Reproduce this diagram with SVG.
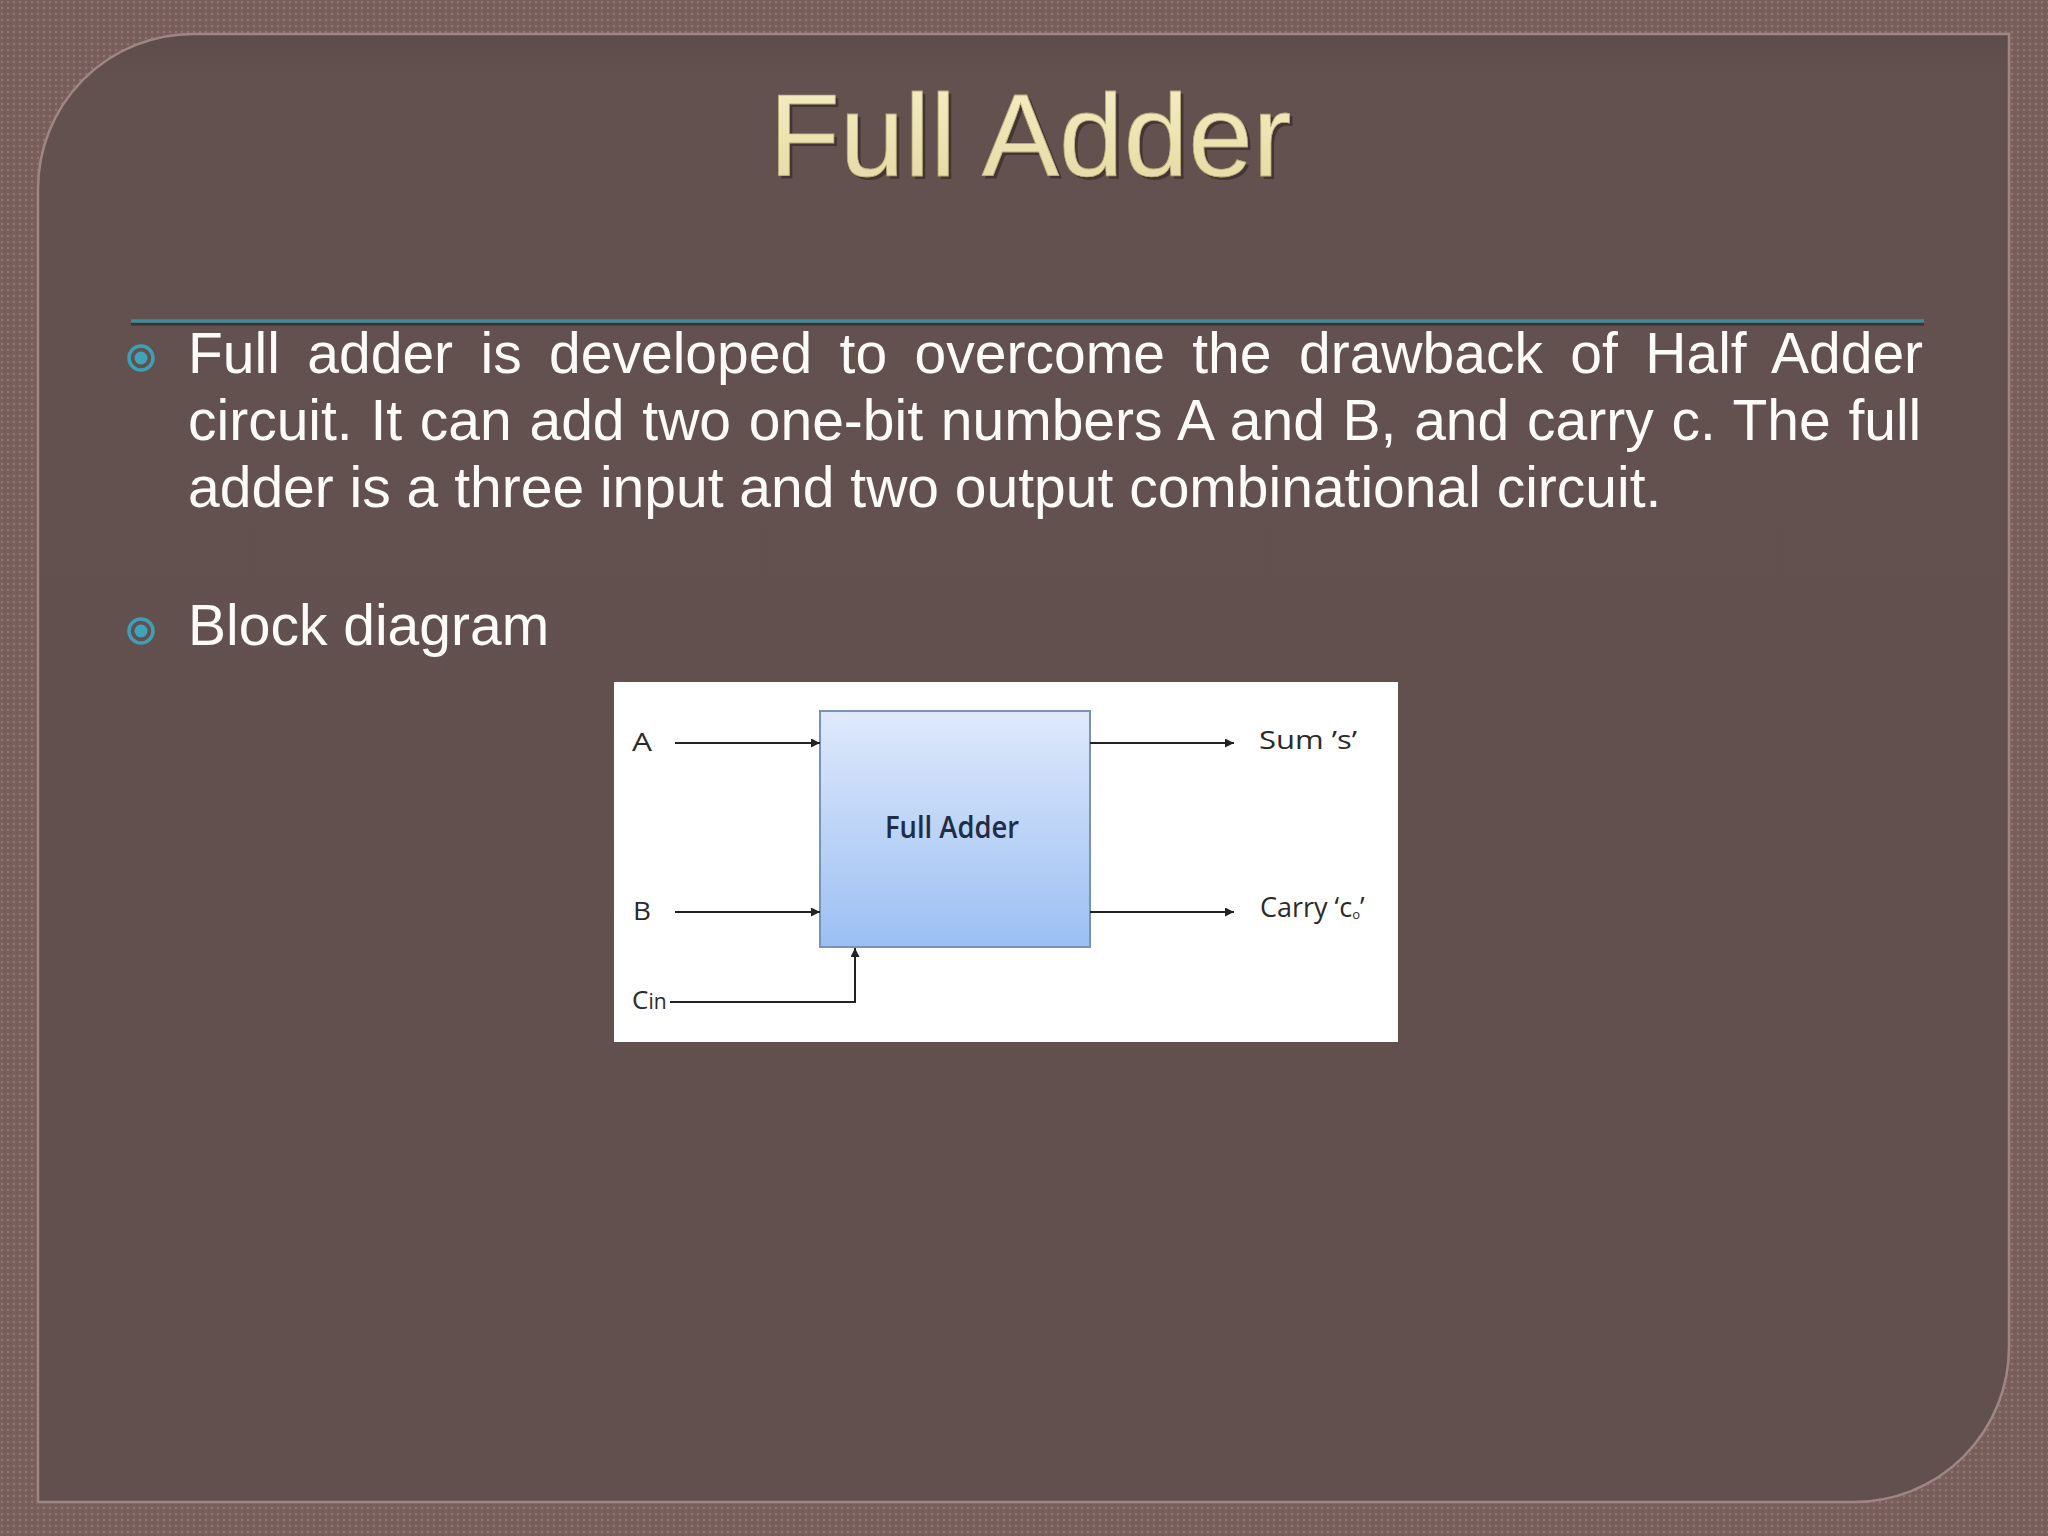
<svg xmlns="http://www.w3.org/2000/svg" width="2048" height="1536" viewBox="0 0 2048 1536">
  <defs>
    <pattern id="weave" width="6" height="6" patternUnits="userSpaceOnUse">
      <rect width="6" height="6" fill="#7a605d"/>
      <rect x="1" y="1" width="2" height="2" fill="#92766f"/>
      <rect x="4" y="4" width="1.5" height="1.5" fill="#6c5553"/>
    </pattern>
    <linearGradient id="panelShade" x1="0" y1="0" x2="0" y2="1">
      <stop offset="0" stop-color="#5e4c4b"/>
      <stop offset="0.03" stop-color="#63514f"/>
      <stop offset="1" stop-color="#62504e"/>
    </linearGradient>
    <linearGradient id="blockFill" x1="0" y1="0" x2="0" y2="1">
      <stop offset="0" stop-color="#dfe9fb"/>
      <stop offset="1" stop-color="#9bbff3"/>
    </linearGradient>
    <linearGradient id="titleFill" x1="0" y1="0" x2="0" y2="1">
      <stop offset="0" stop-color="#f6efc6"/>
      <stop offset="1" stop-color="#e4d89f"/>
    </linearGradient>
    <marker id="arrow" viewBox="0 0 10 10" refX="10" refY="5" markerWidth="11" markerHeight="9" markerUnits="userSpaceOnUse" orient="auto">
      <path d="M0,0 L10,5 L0,10 Z" fill="#222"/>
    </marker>
    <style>
      .body { font-family: "Liberation Sans", Arial, sans-serif; font-size: 57px; fill: #fdfbf8; }
      .title { font-family: "Liberation Sans", Arial, sans-serif; font-size: 116px; }
      .lbl { font-family: "Open Sans", "Noto Sans", sans-serif; font-size: 26px; fill: #2a2a2a; }
      .wire { fill: none; stroke: #222222; stroke-width: 2; }
      .ring { fill: none; stroke: #3f9fb6; stroke-width: 3.5; }
      .dot { fill: #3fa3bb; }
    </style>
  </defs>

  <!-- background frame and panel -->
  <rect x="0" y="0" width="2048" height="1536" fill="url(#weave)"/>
  <path d="M 193 34 H 2009 V 1347 A 155 155 0 0 1 1854 1502 H 38 V 189 A 155 155 0 0 1 193 34 Z" fill="url(#panelShade)" stroke="#9e8783" stroke-width="2.5"/>

  <!-- title -->
  <g id="title">
    <text class="title" x="772" y="179" fill="#2e2322" fill-opacity="0.6">Full Adder</text>
    <text class="title" x="769" y="176" fill="url(#titleFill)" stroke="#b8ac7a" stroke-width="0.8">Full Adder</text>
  </g>

  <!-- separator -->
  <line x1="131" y1="324" x2="1924" y2="324" stroke="#2f2524" stroke-width="3" stroke-opacity="0.7"/>
  <line x1="131" y1="321" x2="1924" y2="321" stroke="#3f8d9b" stroke-width="3.5"/>

  <!-- bullet 1 -->
  <g id="bullet1">
    <circle class="ring" cx="141" cy="358" r="12"/>
    <circle class="dot" cx="141" cy="358" r="6.5"/>
    <text class="body" x="188" y="373" word-spacing="11.6">Full adder is developed to overcome the drawback of Half Adder</text>
    <text class="body" x="188" y="440" word-spacing="1.9">circuit. It can add two one-bit numbers A and B, and carry c. The full</text>
    <text class="body" x="188" y="507">adder is a three input and two output combinational circuit.</text>
  </g>

  <!-- bullet 2 -->
  <g id="bullet2">
    <circle class="ring" cx="141" cy="631" r="12"/>
    <circle class="dot" cx="141" cy="631" r="6.5"/>
    <text class="body" x="188" y="645">Block diagram</text>
  </g>

  <!-- block diagram -->
  <g id="diagram-bg">
    <rect x="614" y="682" width="784" height="360" fill="#ffffff"/>
  </g>

  <g id="node-full-adder">
    <rect x="820" y="711" width="270" height="236" fill="url(#blockFill)" stroke="#7892b8" stroke-width="2"/>
    <text class="lbl" x="885" y="838" style="font-size:30px; font-weight:600; fill:#1f2d45" textLength="134" lengthAdjust="spacingAndGlyphs">Full Adder</text>
  </g>

  <g id="node-A"><text class="lbl" x="632" y="751" textLength="20" lengthAdjust="spacingAndGlyphs">A</text></g>
  <g id="node-B"><text class="lbl" x="633" y="920" textLength="18" lengthAdjust="spacingAndGlyphs">B</text></g>
  <g id="node-Cin"><text class="lbl" x="632" y="1009">C<tspan style="font-size:21px">in</tspan></text></g>
  <g id="node-sum"><text class="lbl" x="1259" y="749" textLength="98" lengthAdjust="spacingAndGlyphs">Sum ’s’</text></g>
  <g id="node-carry"><text class="lbl" x="1260" y="917" style="font-size:27px">Carry ‘c<tspan style="font-size:13px" dy="2">o</tspan><tspan dy="-2">’</tspan></text></g>

  <g id="connectors">
    <line class="wire" x1="675" y1="743" x2="820" y2="743" marker-end="url(#arrow)"/>
    <line class="wire" x1="675" y1="912" x2="820" y2="912" marker-end="url(#arrow)"/>
    <polyline class="wire" points="670,1002 855,1002 855,948" marker-end="url(#arrow)"/>
    <line class="wire" x1="1090" y1="743" x2="1234" y2="743" marker-end="url(#arrow)"/>
    <line class="wire" x1="1090" y1="912" x2="1234" y2="912" marker-end="url(#arrow)"/>
  </g>
</svg>
